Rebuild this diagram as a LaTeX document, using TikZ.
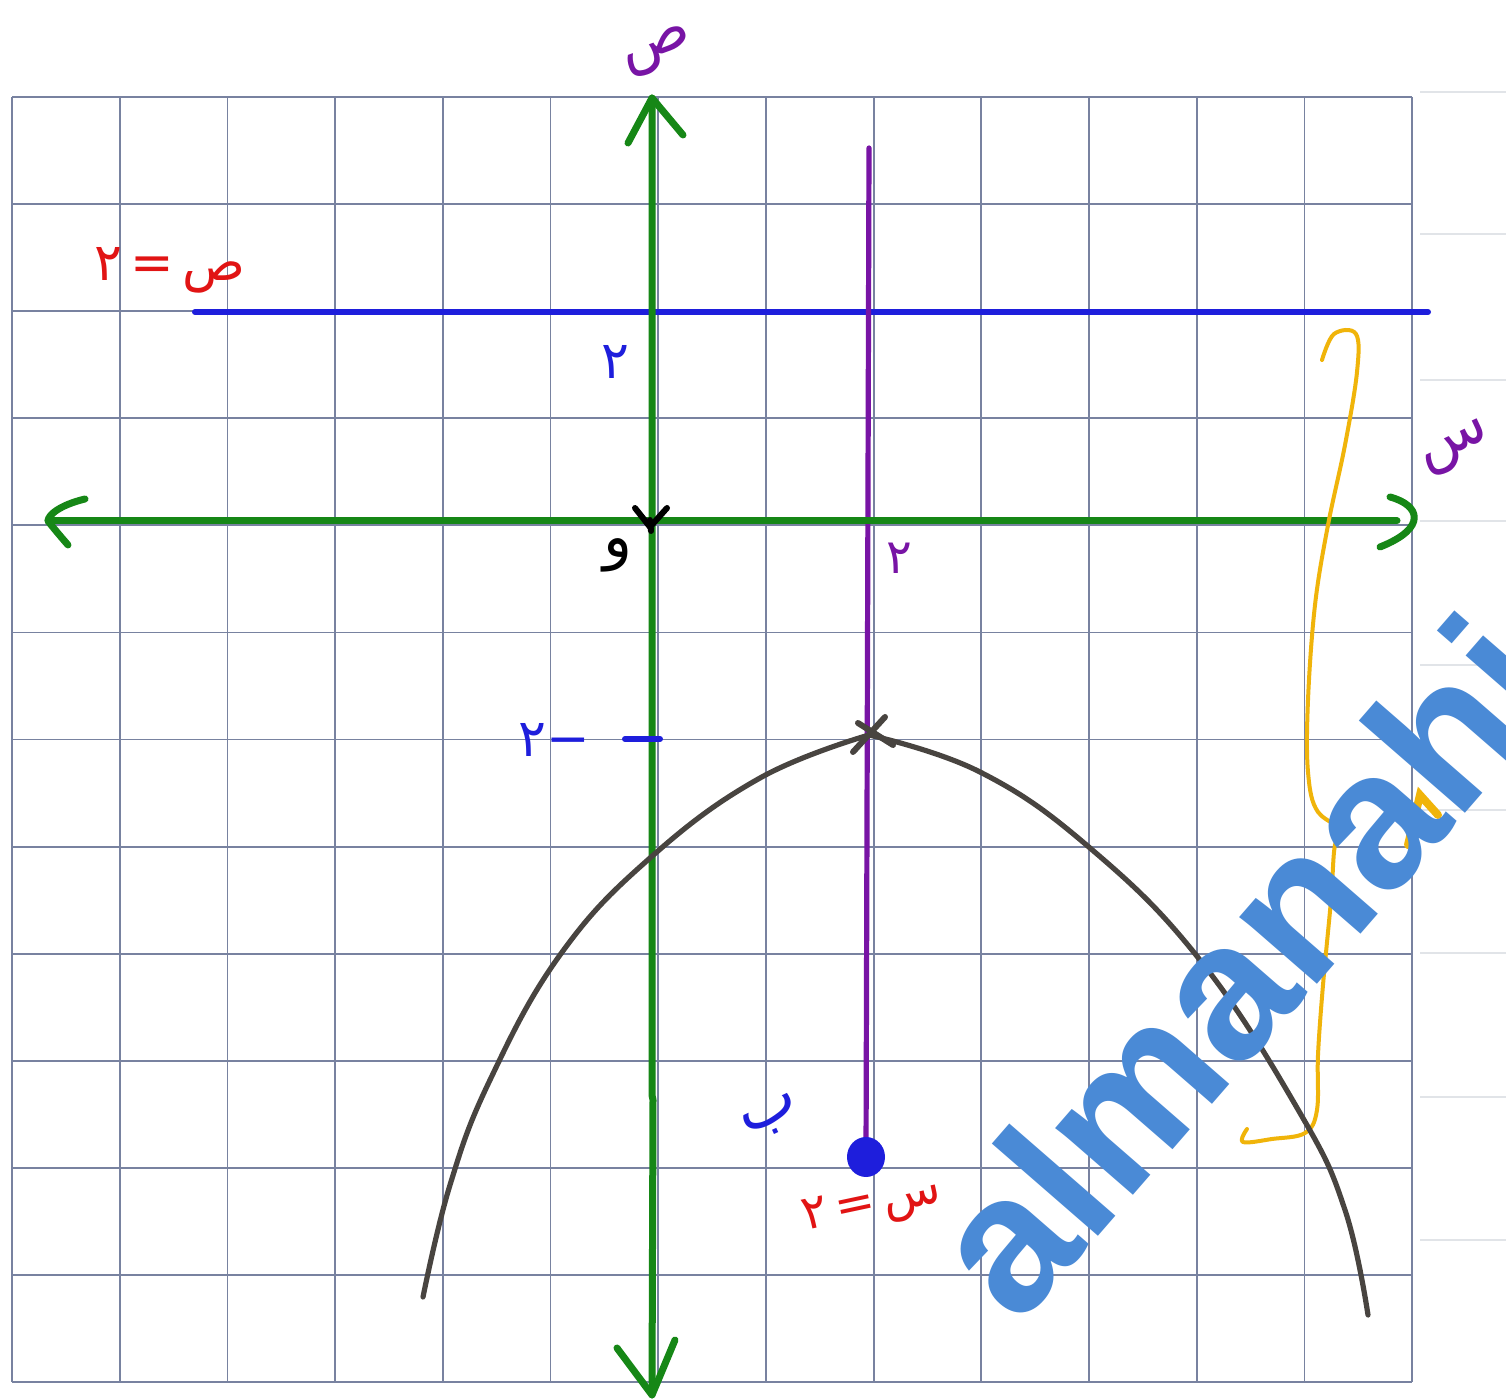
\documentclass[tikz,border=0pt]{standalone}
\usepackage{fontspec}
\newfontfamily\arfont[Script=Arabic]{DejaVu Sans}
\newfontfamily\wmfont{Liberation Sans}
\TeXXeTstate=1
\definecolor{gridc}{RGB}{120,130,160}
\definecolor{faintc}{RGB}{225,228,232}
\definecolor{axc}{RGB}{22,135,22}
\definecolor{purc}{RGB}{120,20,165}
\definecolor{bluc}{RGB}{30,30,220}
\definecolor{redc}{RGB}{225,20,20}
\definecolor{curvc}{RGB}{72,68,64}
\definecolor{yelc}{RGB}{240,180,10}
\definecolor{wmc}{RGB}{74,138,214}
\tikzset{
  gridline/.style={draw=gridc, line width=0.9pt},
  faint/.style={draw=faintc, line width=1pt},
  axisline/.style={draw=axc, line width=3.5pt, line cap=round, line join=round},
  purline/.style={draw=purc, line width=2.6pt, line cap=round},
  bluline/.style={draw=bluc, line width=3pt, line cap=round},
  curveline/.style={draw=curvc, line width=2.6pt, line cap=round, line join=round},
  yelline/.style={draw=yelc, line width=2pt, line cap=round, line join=round},
  arlabel/.style={inner sep=0pt, font=\arfont},
}
\begin{document}
\begin{tikzpicture}[x=0.5pt, y=-0.5pt]
\useasboundingbox (0,0) rectangle (1506,1400);
\clip (0,0) rectangle (1506,1400);
\fill[white] (0,0) rectangle (1506,1400);
% faint margin lines
\foreach \yy in {92,234,380,521,665,810,953,1097,1240}
  \draw[faint] (1420,\yy) -- (1506,\yy);
% grid
\foreach \i in {0,...,13}
  \draw[gridline] ({12+107.7*\i},97) -- ({12+107.7*\i},1382);
\foreach \j in {0,...,12}
  \draw[gridline] (12,{97+107.1*\j}) -- (1412,{97+107.1*\j});
% key points
\coordinate (O) at (652,521);
\coordinate (ytop) at (652,98);
\coordinate (ybot) at (652,1395);
\coordinate (xleft) at (48,521);
\coordinate (xright) at (1397,521);
\coordinate (vtx) at (869,735);
\coordinate (focus) at (866,1157);
\coordinate (axtop) at (869,148);
\coordinate (dirL) at (195,312);
\coordinate (dirR) at (1428,312);
% directrix
\draw[bluline] (dirL) -- (dirR);
% axis of symmetry
\draw[purline] (axtop) -- (focus);
% axes
\draw[axisline] (ytop) -- (652,1095) -- (653,1100) -- (ybot);
\draw[axisline] (xleft) -- (xright);
\draw[axisline] (628,143) -- (ytop) -- (683,135);
\draw[axisline] (617,1348) -- (ybot) -- (675,1340);
\draw[axisline] (85,499) .. controls (60,505) and (48,515) .. (xleft) .. controls (55,530) and (62,538) .. (68,545);
\draw[axisline] (1390,497) .. controls (1420,505) and (1428,528) .. (1380,547);
% origin mark
\draw[line width=3pt, line cap=round] (635,508) -- (650,527) -- (667,508);
\draw[line width=3pt, line cap=round] (650,520) -- (651,531);
% tick at -2
\draw[bluline] (625,739) -- (660,739);
% focus
\fill[bluc] (focus) ellipse [x radius=19, y radius=20];
% brace
\draw[yelline] plot[smooth, tension=0.6] coordinates {(1322,360) (1334,334) (1356,334) (1357,372) (1345,445) (1328,525) (1315,605) (1308,700) (1308,772) (1318,812) (1348,830)};
\draw[yelline] plot[smooth, tension=0.6] coordinates {(1344,832) (1335,845) (1331,900) (1323,985) (1318,1055) (1317,1110) (1305,1133) (1272,1139) (1243,1142) (1247,1129)};
\draw[draw=yelc, line width=4pt, line cap=round] (1408,845) -- (1420,795) -- (1438,815);
% parabola
\draw[curveline] plot[smooth, tension=0.7] coordinates {(423,1297) (450,1185) (490,1080) (560,955) (650,858) (760,778) (869,735)};
\draw[curveline] plot[smooth, tension=0.7] coordinates {(869,735) (980,772) (1090,848) (1200,960) (1300,1113) (1345,1210) (1368,1315)};
% vertex mark
\draw[curveline, line width=3pt] (853,752) -- (885,717);
\draw[curveline, line width=3pt] (858,723) -- (893,745);
% labels
\node[arlabel, text=purc, rotate=20, font=\arfont\fontsize{30}{34}\selectfont] (ylab) at (658,52) {\beginR ص\endR};
\node[arlabel, text=purc, rotate=25, font=\arfont\fontsize{30}{34}\selectfont] (xlab) at (1456,449) {\beginR س\endR};
\node[arlabel, text=redc, font=\arfont\fontsize{26}{30}\selectfont] (dirlab) at (170,270) {\beginR ص\,=\,٢\endR};
\node[arlabel, text=bluc, font=\arfont\fontsize{26}{30}\selectfont] (ytwo) at (615,362) {\beginR ٢\endR};
\node[arlabel, text=black, font=\arfont\fontsize{30}{34}\selectfont] (olab) at (618,555) {\beginR و\endR};
\node[arlabel, text=purc, font=\arfont\fontsize{24}{28}\selectfont] (xtwo) at (899,558) {\beginR ٢\endR};
\node[arlabel, text=bluc, font=\arfont\fontsize{26}{30}\selectfont] (ymtwo) at (554,740) {\beginR −٢\endR};
\node[arlabel, text=bluc, rotate=25, font=\arfont\fontsize{32}{36}\selectfont] (flab) at (772,1118) {\beginR ب\endR};
\node[arlabel, text=redc, rotate=12, font=\arfont\fontsize{24}{28}\selectfont] (axlab) at (872,1207) {\beginR س\,=\,٢\endR};
% watermark
\node[inner sep=0pt, anchor=base west, rotate=49, text=wmc, font=\wmfont\bfseries\fontsize{97}{100}\selectfont] (wm) at (1018,1328) {almanahj};
\end{tikzpicture}
\end{document}
